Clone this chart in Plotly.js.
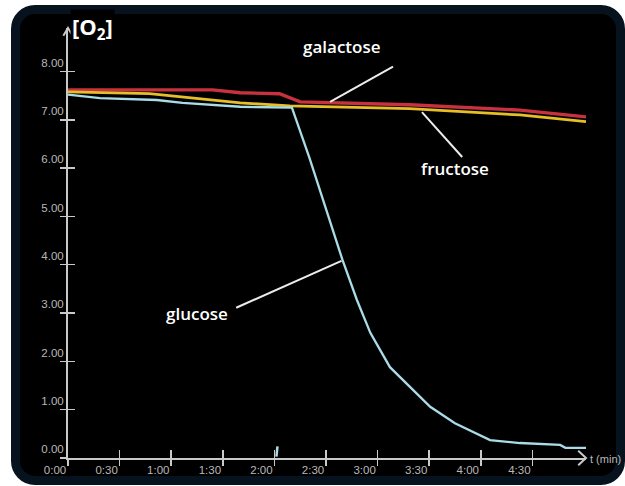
<!DOCTYPE html>
<html>
<head>
<meta charset="utf-8">
<script src="https://cdn.plot.ly/plotly-3.0.1.min.js"></script>
<style>
  html, body { margin:0; padding:0; background:#ffffff; width:625px; height:486px; overflow:hidden; }
  #frame { position:absolute; left:11px; top:5px; width:614px; height:480px; box-sizing:border-box;
           background:#000000; border:9px solid #07121f; border-radius:24px; }
  #chart { position:absolute; left:0; top:0; width:625px; height:486px; }
</style>
</head>
<body>
<div id="frame"></div>
<div id="chart"></div>
<script>
// ---- data (time in minutes, O2 in axis units) ----
const timeGalactose = [0, 1.40, 1.67, 2.05, 2.25, 2.54, 3.31, 4.38, 5.02];
const o2Galactose   = [7.62, 7.62, 7.56, 7.54, 7.37, 7.35, 7.31, 7.20, 7.06];

const timeFructose  = [0, 0.79, 1.67, 2.15, 3.31, 4.38, 5.02];
const o2Fructose    = [7.58, 7.54, 7.35, 7.29, 7.23, 7.10, 6.96];

const timeGlucose   = [0, 0.31, 0.86, 1.11, 1.67, 2.17, 2.34, 2.47, 2.66, 2.80, 2.93, 3.12, 3.31, 3.51, 3.75, 3.99, 4.09, 4.38, 4.77, 4.82, 5.02];
const o2Glucose     = [7.52, 7.45, 7.41, 7.35, 7.27, 7.25, 6.21, 5.34, 4.10, 3.27, 2.59, 1.88, 1.47, 1.06, 0.72, 0.48, 0.37, 0.31, 0.27, 0.21, 0.21];

const timeArtifact  = [2.02, 2.03];
const o2Artifact    = [0.03, 0.24];

const xTickVals  = [0, 0.5, 1, 1.5, 2, 2.5, 3, 3.5, 4, 4.5];
const xTickText  = ['0:00', '0:30', '1:00', '1:30', '2:00', '2:30', '3:00', '3:30', '4:00', '4:30'];
const yTickVals  = [0, 1, 2, 3, 4, 5, 6, 7, 8];
const yTickText  = ['0.00', '1.00', '2.00', '3.00', '4.00', '5.00', '6.00', '7.00', '8.00'];

const axisColor = '#c9c9c9';
const tickFont = {family: 'Liberation Sans, Arial, sans-serif', size: 11.5, color: '#b8b8b8'};
const labelFont = {family: 'Open Sans, sans-serif', size: 17, color: '#ffffff', weight: 600};

const traces = [
  {x: timeGalactose, y: o2Galactose, name: 'galactose', mode: 'lines',
   line: {color: '#c8323e', width: 3.4}, cliponaxis: false},
  {x: timeFructose, y: o2Fructose, name: 'fructose', mode: 'lines',
   line: {color: '#e6be28', width: 2.8}, cliponaxis: false},
  {x: timeGlucose, y: o2Glucose, name: 'glucose', mode: 'lines',
   line: {color: '#a9dce6', width: 2.3}, cliponaxis: false},
  {x: timeArtifact, y: o2Artifact, name: 'artifact', mode: 'lines', xaxis: 'x2', yaxis: 'y2',
   line: {color: '#a9dce6', width: 2.5}, cliponaxis: false}
];

const xBase = {range: [0, 5.02], showgrid: false, zeroline: false, fixedrange: true,
  tickmode: 'array', tickvals: xTickVals, ticktext: xTickText, tickcolor: axisColor, tickwidth: 1.5};
const yBase = {range: [0, 8.9], showgrid: false, zeroline: false, fixedrange: true,
  tickmode: 'array', tickvals: yTickVals, ticktext: yTickText, tickcolor: axisColor, tickwidth: 1.5};

const layout = {
  width: 625, height: 486,
  margin: {l: 68, r: 39, t: 28, b: 28},
  paper_bgcolor: 'rgba(0,0,0,0)', plot_bgcolor: 'rgba(0,0,0,0)',
  showlegend: false,
  xaxis: Object.assign({}, xBase, {showline: true, linecolor: axisColor, linewidth: 2,
    ticks: 'outside', ticklen: 6, ticklabelposition: 'outside left', tickfont: tickFont, anchor: 'y'}),
  yaxis: Object.assign({}, yBase, {showline: true, linecolor: axisColor, linewidth: 2,
    ticks: 'outside', ticklen: 6, ticklabelposition: 'outside top', tickfont: tickFont, anchor: 'x'}),
  xaxis2: Object.assign({}, xBase, {overlaying: 'x', matches: 'x', anchor: 'y2', showline: false,
    ticks: 'inside', ticklen: 8, showticklabels: false}),
  yaxis2: Object.assign({}, yBase, {overlaying: 'y', matches: 'y', anchor: 'x2', showline: false,
    ticks: 'inside', ticklen: 7, showticklabels: false}),
  shapes: [
    // axis arrow heads (paper coordinates so they are not clipped)
    {type: 'path', xref: 'paper', yref: 'paper', path: 'M 0.985 0.017 L 1.0 0 L 0.985 -0.017',
     line: {color: axisColor, width: 2}},
    {type: 'path', xref: 'paper', yref: 'paper', path: 'M -0.009 0.982 L 0 1.0 L 0.009 0.982',
     line: {color: axisColor, width: 2}},
    // leader lines
    {type: 'line', xref: 'x', yref: 'y', x0: 3.15, y0: 8.10, x1: 2.54, y1: 7.37,
     line: {color: '#ececec', width: 2}},
    {type: 'line', xref: 'x', yref: 'y', x0: 3.82, y0: 6.23, x1: 3.43, y1: 7.16,
     line: {color: '#ececec', width: 2}},
    {type: 'line', xref: 'x', yref: 'y', x0: 1.63, y0: 3.11, x1: 2.65, y1: 4.08,
     line: {color: '#ececec', width: 2}}
  ],
  annotations: [
    {x: 2.66, y: 8.51, xref: 'x', yref: 'y', text: 'galactose', showarrow: false, font: labelFont},
    {x: 3.75, y: 6.00, xref: 'x', yref: 'y', text: 'fructose', showarrow: false, font: labelFont},
    {x: 1.25, y: 3.00, xref: 'x', yref: 'y', text: 'glucose', showarrow: false, font: labelFont},
    {x: 0.004, y: 1.0, xref: 'paper', yref: 'paper', xanchor: 'left', yanchor: 'middle',
     text: '[O<sub>2</sub>]', showarrow: false, bgcolor: '#000000', borderpad: 1,
     font: {family: 'Open Sans, sans-serif', size: 22, color: '#ffffff', weight: 700}},
    {x: 1.004, y: -0.021, xref: 'paper', yref: 'paper', text: 't (min)', showarrow: false, xanchor: 'left',
     font: {family: 'Liberation Sans, Arial, sans-serif', size: 11, color: '#b8b8b8'}}
  ]
};

Plotly.newPlot('chart', traces, layout, {displayModeBar: false, staticPlot: true});
</script>
</body>
</html>
